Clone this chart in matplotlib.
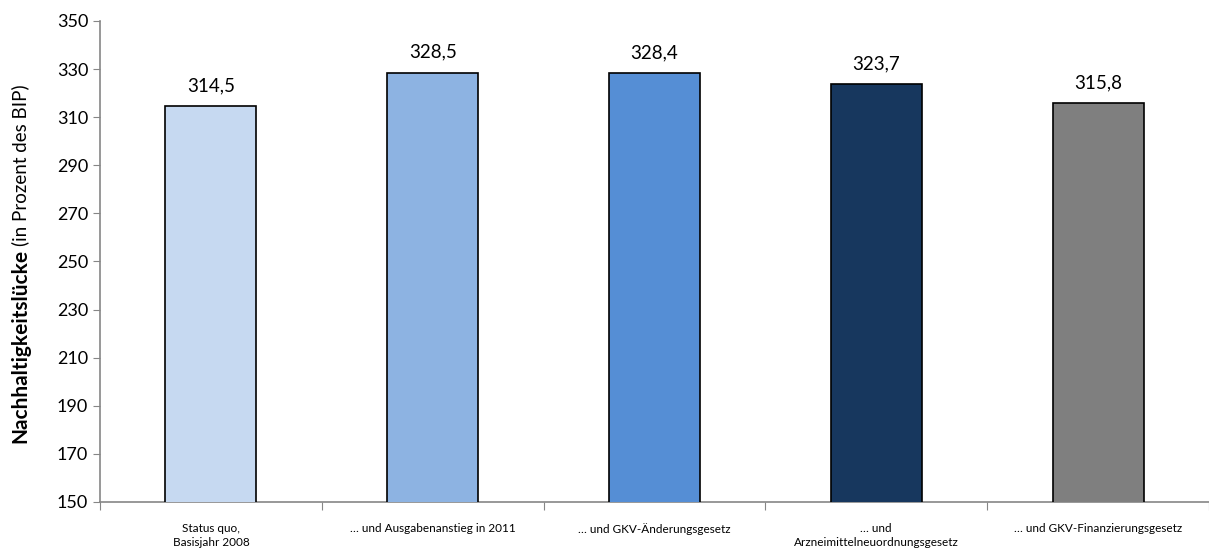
import matplotlib.pyplot as plt
import numpy as np

categories = ["Status quo,\nBasisjahr 2008", "… und Ausgabenanstieg in 2011",
              "… und GKV-Änderungsgesetz", "… und\nArzneimittelneuordnungsgesetz",
              "… und GKV-Finanzierungsgesetz"]
values = [314.5, 328.5, 328.4, 323.7, 315.8]
colors = ["#C6D9F1", "#8DB3E2", "#558ED5", "#17375E", "#7F7F7F"]
yticks = list(range(150, 351, 20))

plt.rcParams["font.family"] = ["Lato", "DejaVu Sans"]

fig = plt.figure(figsize=(12.09, 5.52), dpi=100)
ax = fig.add_axes([0.0827, 0.0906, 0.9173, 0.8714])

x = np.arange(len(values))
ax.bar(x, values, width=0.41, color=colors, edgecolor="black", linewidth=1.2, zorder=3)
for xi, v in zip(x, values):
    ax.text(xi, v + 5, f"{v:.1f}".replace(".", ","), ha="center", va="bottom", fontsize=13.5)

ax.set_xlim(-0.5, len(values) - 0.5)
ax.set_ylim(150, 350)
ax.set_yticks(yticks)
ax.tick_params(axis="y", labelsize=13, length=5, color="#868686")

# ticks between the categories, labels centred under the bars
ax.set_xticks(np.arange(len(values) + 1) - 0.5)
ax.set_xticklabels([])
ax.tick_params(axis="x", length=6, color="#868686", direction="out")
ax.set_xticks(x, minor=True)
ax.set_xticklabels(categories, minor=True, fontsize=8.5, linespacing=1.3)
ax.tick_params(axis="x", which="minor", length=0, pad=15)

for s in ["top", "right"]:
    ax.spines[s].set_visible(False)
for s in ["left", "bottom"]:
    ax.spines[s].set_color("#868686")
    ax.spines[s].set_linewidth(1.2)

# y label: bold part + regular part
t1 = fig.text(0.0165, 0.1975, "Nachhaltigkeitslücke", rotation=90, fontsize=15,
              fontweight="bold", ha="center", va="bottom")
fig.canvas.draw()
bb = t1.get_window_extent().transformed(fig.transFigure.inverted())
fig.text(0.0165, bb.y1 + 0.006, "(in Prozent des BIP)", rotation=90, fontsize=13.5,
         ha="center", va="bottom")

fig.savefig("out.png", dpi=100)
